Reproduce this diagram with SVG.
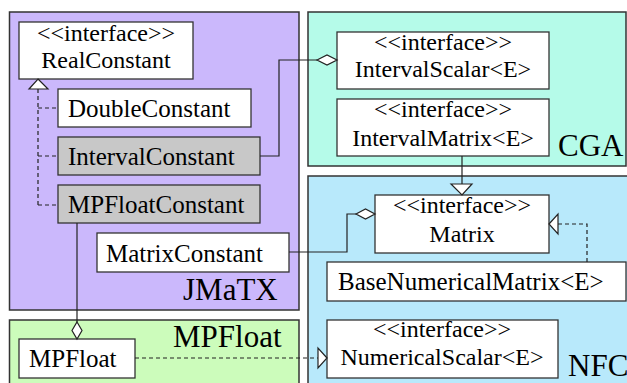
<svg xmlns="http://www.w3.org/2000/svg" width="627" height="383" viewBox="0 0 627 383">
<style>
.pkg{stroke:#333;stroke-width:1.5}
.box{fill:#fff;stroke:#333;stroke-width:1.3}
.gray{fill:#c8c8c8}
.ln{fill:none;stroke:#222;stroke-width:1.2}
.dash{stroke-dasharray:4 3}
.tri{fill:#fff;stroke:#222;stroke-width:1.2}
</style>
<rect width="627" height="383" fill="#fff"/>
<g id="pkg-JMaTX"><rect class="pkg" x="9.5" y="12" width="289.5" height="298" fill="#cbb8fc"/><text x="183" y="300" font-size="31" font-family="Times New Roman, Liberation Serif, serif">JMaTX</text></g>
<g id="pkg-CGA"><rect class="pkg" x="308" y="12" width="318" height="154" fill="#b5fbe9"/><text x="558" y="156" font-size="31" font-family="Times New Roman, Liberation Serif, serif">CGA</text></g>
<g id="pkg-NFC"><rect class="pkg" x="308" y="176" width="322" height="212" fill="#b8e9fb"/><text x="568" y="376" font-size="31" font-family="Times New Roman, Liberation Serif, serif">NFC</text></g>
<g id="pkg-MPFloat"><rect class="pkg" x="9.5" y="320" width="289.5" height="70" fill="#ccfcbb"/><text x="173" y="347" font-size="31" font-family="Times New Roman, Liberation Serif, serif">MPFloat</text></g>

<g id="RealConstant"><rect class="box" x="19" y="22" width="174" height="57"/><text x="106" y="41" font-size="24" text-anchor="middle" font-family="Times New Roman, Liberation Serif, serif">&lt;&lt;interface&gt;&gt;</text><text x="106" y="68" font-size="24" text-anchor="middle" font-family="Times New Roman, Liberation Serif, serif">RealConstant</text></g>
<g id="DoubleConstant"><rect class="box" x="58" y="89" width="193" height="38"/><text x="68" y="117" font-size="25" font-family="Times New Roman, Liberation Serif, serif">DoubleConstant</text></g>
<g id="IntervalConstant"><rect class="box gray" x="58" y="137" width="202" height="38"/><text x="68" y="165" font-size="25" font-family="Times New Roman, Liberation Serif, serif">IntervalConstant</text></g>
<g id="MPFloatConstant"><rect class="box gray" x="58" y="185" width="202" height="38"/><text x="68" y="213" font-size="25" font-family="Times New Roman, Liberation Serif, serif">MPFloatConstant</text></g>
<g id="MatrixConstant"><rect class="box" x="97" y="233" width="192" height="39"/><text x="106" y="262" font-size="25" font-family="Times New Roman, Liberation Serif, serif">MatrixConstant</text></g>
<g id="IntervalScalar"><rect class="box" x="337" y="32" width="212" height="57"/><text x="443" y="50" font-size="24" text-anchor="middle" font-family="Times New Roman, Liberation Serif, serif">&lt;&lt;interface&gt;&gt;</text><text x="443" y="77" font-size="24" text-anchor="middle" font-family="Times New Roman, Liberation Serif, serif">IntervalScalar&lt;E&gt;</text></g>
<g id="IntervalMatrix"><rect class="box" x="337" y="99" width="212" height="57"/><text x="443" y="117" font-size="24" text-anchor="middle" font-family="Times New Roman, Liberation Serif, serif">&lt;&lt;interface&gt;&gt;</text><text x="443" y="146" font-size="24" text-anchor="middle" font-family="Times New Roman, Liberation Serif, serif">IntervalMatrix&lt;E&gt;</text></g>
<g id="Matrix"><rect class="box" x="375" y="195" width="174" height="58"/><text x="462" y="213" font-size="24" text-anchor="middle" font-family="Times New Roman, Liberation Serif, serif">&lt;&lt;interface&gt;&gt;</text><text x="462" y="242" font-size="24" text-anchor="middle" font-family="Times New Roman, Liberation Serif, serif">Matrix</text></g>
<g id="BaseNumericalMatrix"><rect class="box" x="327" y="262" width="299" height="39"/><text x="338" y="290" font-size="25" font-family="Times New Roman, Liberation Serif, serif">BaseNumericalMatrix&lt;E&gt;</text></g>
<g id="NumericalScalar"><rect class="box" x="327" y="320" width="231" height="58"/><text x="442" y="337" font-size="24" text-anchor="middle" font-family="Times New Roman, Liberation Serif, serif">&lt;&lt;interface&gt;&gt;</text><text x="442" y="365" font-size="24" text-anchor="middle" font-family="Times New Roman, Liberation Serif, serif">NumericalScalar&lt;E&gt;</text></g>
<g id="MPFloatBox"><rect class="box" x="19" y="339" width="116" height="39"/><text x="29" y="367" font-size="25" font-family="Times New Roman, Liberation Serif, serif">MPFloat</text></g>

<g id="connectors">
<path class="ln dash" d="M38 89V205M38 108H58M38 156H58M38 205H58"/>
<path class="tri" d="M38 79L48 89H29Z"/>
<path class="ln" d="M260 156H279V60H317"/>
<path class="tri" d="M317 60L327 55L337 60L327 65Z"/>
<path class="ln" d="M462 156V184"/>
<path class="tri" d="M451 184H472L462 195Z"/>
<path class="ln" d="M289 252H347V214H356"/>
<path class="tri" d="M356 214L365.5 209L375 214L365.5 219Z"/>
<path class="ln dash" d="M587 262V224H558"/>
<path class="tri" d="M549 224L558 214V234Z"/>
<path class="ln" d="M77 223V322"/>
<path class="tri" d="M77 322L82 330.5L77 339L72 330.5Z"/>
<path class="ln dash" d="M135 358H318"/>
<path class="tri" d="M327 358L318 348V368Z"/>
</g>
</svg>
